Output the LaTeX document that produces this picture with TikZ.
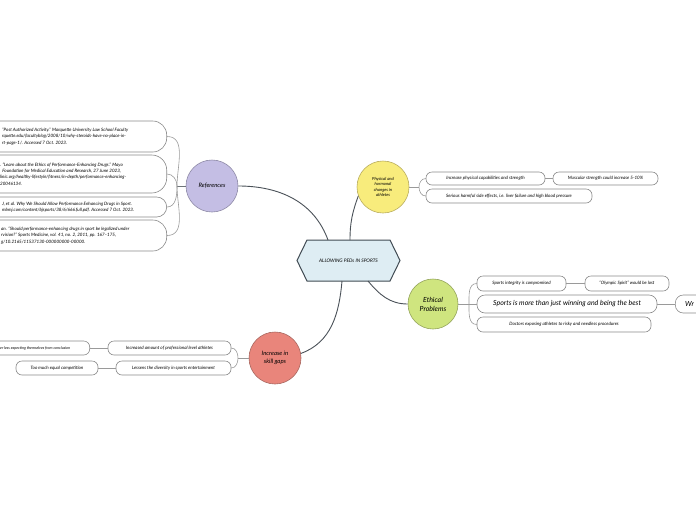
\documentclass[tikz,border=0pt]{standalone}
\usepackage{fontspec}
\setmainfont{Lato}
\definecolor{refc}{HTML}{C4BEE4}
\definecolor{refb}{HTML}{8E8AA6}
\definecolor{yelc}{HTML}{F8EC7C}
\definecolor{yelb}{HTML}{B9AD5E}
\definecolor{grnc}{HTML}{CFE57F}
\definecolor{grnb}{HTML}{93A35A}
\definecolor{redc}{HTML}{E9857B}
\definecolor{redb}{HTML}{A8675F}
\definecolor{hexc}{HTML}{DEEDF3}
\definecolor{hexb}{HTML}{414B53}
\definecolor{boxgray}{HTML}{8A8A8A}
\definecolor{linegray}{HTML}{9A9A9A}
\definecolor{maingray}{HTML}{4A5158}
\begin{document}
\begin{tikzpicture}[x=1pt,y=-1pt,
  pill/.style={draw=boxgray, fill=white, line width=0.6pt, rounded corners=6pt, inner sep=2pt,
    font=\fontsize{4.5}{5.5}\selectfont\itshape},
  refbox/.style={draw=boxgray, fill=white, line width=0.6pt, rounded corners=14pt, anchor=east, minimum width=200pt},
  reftext/.style={anchor=west, align=left, inner sep=0pt, font=\fontsize{4.5}{6.2}\selectfont\itshape},
  hub/.style={circle, minimum size=52pt, inner sep=1pt, line width=0.6pt, align=center,
    font=\fontsize{6}{7.5}\selectfont\itshape},
  mainline/.style={draw=maingray, line width=0.9pt},
  branch/.style={draw=linegray, line width=0.6pt}]
\useasboundingbox (0,0) rectangle (696,520);
\clip (0,0) rectangle (696,520);

% central topic
\draw[fill=hexc, draw=hexb, line width=1pt] (297,260.5) -- (307,240) -- (390,240) -- (400,260.5) -- (390,281) -- (307,281) -- cycle;
\node[minimum width=103pt, minimum height=41pt, font=\fontsize{4.8}{6}\selectfont\itshape] (ctr) at (348.5,260.5) {ALLOWING PEDs IN SPORTS};
\coordinate (hA) at (328,240);
\coordinate (hB) at (350,240);
\coordinate (hC) at (342,281);
\coordinate (hD) at (368,281);

% hubs
\node[hub, fill=refc, draw=refb] (ref) at (212,186) {References};
\node[hub, fill=yelc, draw=yelb, font=\fontsize{4.2}{5.6}\selectfont\itshape] (phy) at (383,187) {Physical and\\hormonal\\changes in\\athletes};
\node[hub, fill=grnc, draw=grnb, minimum size=50pt, font=\fontsize{7}{9}\selectfont\itshape] (eth) at (433,304) {Ethical\\Problems};
\node[hub, fill=redc, draw=redb, font=\fontsize{6}{8}\selectfont\itshape] (gap) at (275,358) {Increase in\\skill gaps};

% main connectors
\draw[mainline] (ref.east) to[out=0,in=110] (hA);
\draw[mainline] (phy.200) to[out=-110,in=90] (hB);
\draw[mainline] (gap.10) to[out=20,in=-95] (hC);
\draw[mainline] (hD) to[out=-50,in=180] (eth.west);

% references boxes
\node[refbox, minimum height=31pt] (rb1) at (167,136.5) {};
\node[reftext] (rt1) at (2,136.5) {``Post Authorized Activity.'' Marquette University Law School Faculty\\rquette.edu/facultyblog/2008/10/why-steroids-have-no-place-in-\\rt-page-1/. Accessed 7 Oct. 2023.};
\node[refbox, minimum height=38pt, rounded corners=15pt] (rb2) at (167,174) {};
\node[reftext] (rt2) at (0,174) {. ``Learn about the Ethics of Performance-Enhancing Drugs.'' Mayo\\\ \ Foundation for Medical Education and Research, 27 June 2023,\\linic.org/healthy-lifestyle/fitness/in-depth/performance-enhancing-\\20046134.};
\node[refbox, minimum height=20pt, rounded corners=10pt] (rb3) at (167,207) {};
\node[reftext] (rt3) at (2,207) {J, et al. Why We Should Allow Performance Enhancing Drugs in Sport.\\mbmj.com/content/bjsports/38/6/666.full.pdf. Accessed 7 Oct. 2023.};
\node[refbox, minimum height=31pt] (rb4) at (167,235.5) {};
\node[reftext] (rt4) at (1,235.5) {an. ``Should performance-enhancing drugs in sport be legalized under\\rvision?'' Sports Medicine, vol. 41, no. 2, 2011, pp. 167--175,\\g/10.2165/11537130-000000000-00000.};
\coordinate (rj) at (177,186);
\draw[branch, line width=0.9pt, draw=maingray!80] (ref.west) -- (rj);
\draw[branch] (rj) to[out=90,in=0] (rb1.east);
\draw[branch] (rj) to[out=90,in=0] (rb2.east);
\draw[branch] (rj) to[out=-90,in=0] (rb3.east);
\draw[branch] (rj) to[out=-90,in=0] (rb4.east);

% physical branch
\node[pill, minimum width=119pt, minimum height=13pt] (p1) at (485.5,178.5) {Increase physical capabilities and strength};
\node[pill, minimum width=105pt, minimum height=13pt] (p2) at (605.5,178.5) {Muscular strength could increase 5-10\%};
\node[pill, minimum width=166pt, minimum height=14pt] (p3) at (509,196) {Serious harmful side effects, i.e. liver failure and high blood pressure};
\coordinate (pj) at (419,187);
\draw[branch] (phy.east) -- (pj);
\draw[branch] (pj) to[out=90,in=180] (p1.west);
\draw[branch] (pj) to[out=-90,in=180] (p3.west);
\draw[branch] (p1.east) -- (p2.west);

% ethical branch
\node[pill, minimum width=89pt, minimum height=15pt] (e1) at (521.5,283.5) {Sports integrity is compromised};
\node[pill, minimum width=84pt, minimum height=15pt] (e2) at (627,283.5) {``Olympic Spirit'' would be lost};
\node[pill, minimum width=180pt, minimum height=18pt, rounded corners=8pt, font=\fontsize{7}{8}\selectfont\itshape] (e3) at (567,304) {Sports is more than just winning and being the best};
\node[pill, minimum width=60pt, minimum height=18pt, rounded corners=8pt, anchor=west] (e4) at (675,304) {};
\node[anchor=west, inner sep=0pt, font=\fontsize{7}{8}\selectfont\itshape] (e4t) at (685,304) {Wr};
\node[pill, minimum width=174pt, minimum height=15pt] (e5) at (564,324.5) {Doctors exposing athletes to risky and needless procedures};
\coordinate (ej) at (469,304);
\draw[branch] (eth.east) -- (ej);
\draw[branch] (ej) to[out=90,in=180] (e1.west);
\draw[branch] (ej) -- (e3.west);
\draw[branch] (ej) to[out=-90,in=180] (e5.west);
\draw[branch] (e1.east) -- (e2.west);
\draw[branch] (e3.east) -- (e4.west);

% skill gap branch
\node[pill, minimum width=123pt, minimum height=14pt] (g1) at (169.5,348) {Increased amount of professional level athletes};
\node[pill, minimum width=115pt, minimum height=14pt] (g2) at (173.5,368) {Lessens the diversity in sports entertainment};
\node[pill, minimum width=82pt, minimum height=14pt] (g3) at (57,368) {Too much equal competition};
\node[pill, minimum width=130pt, minimum height=14pt, anchor=east] (g4) at (90,348) {};
\node[anchor=west, inner sep=0pt, font=\fontsize{3.8}{5}\selectfont\itshape] (g4t) at (0,348) {er less expecting themselves from conclusion};
\coordinate (gj) at (238,358);
\draw[branch] (gap.west) -- (gj);
\draw[branch] (gj) to[out=90,in=0] (g1.east);
\draw[branch] (gj) to[out=-90,in=0] (g2.east);
\draw[branch] (g1.west) -- (g4.east);
\draw[branch] (g2.west) -- (g3.east);
\end{tikzpicture}
\end{document}
